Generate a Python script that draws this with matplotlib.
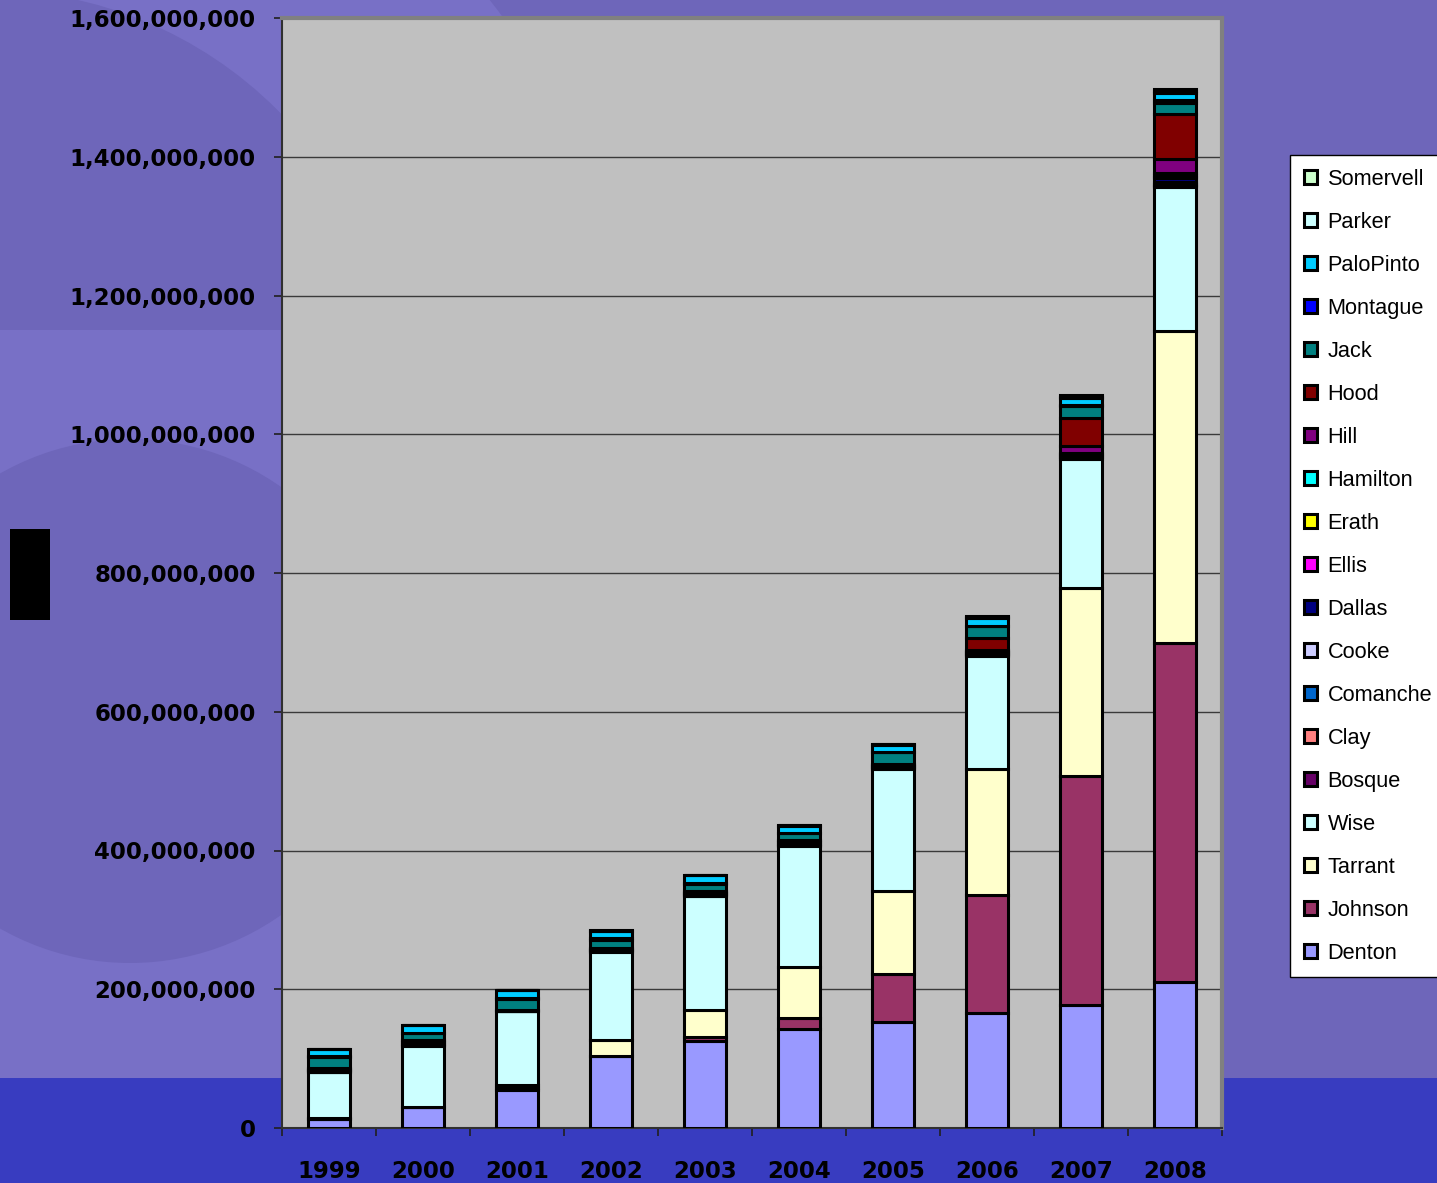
import matplotlib
matplotlib.use("Agg")
import matplotlib.pyplot as plt
import numpy as np
from matplotlib.patches import Rectangle, Circle, Patch
from matplotlib.ticker import FuncFormatter, FixedLocator

# ---- data (values in millions) ----
years = ["1999", "2000", "2001", "2002", "2003", "2004", "2005", "2006", "2007", "2008"]

counties = ["Denton", "Johnson", "Tarrant", "Wise", "Bosque", "Clay", "Comanche",
            "Cooke", "Dallas", "Ellis", "Erath", "Hamilton", "Hill", "Hood", "Jack",
            "Montague", "PaloPinto", "Parker", "Somervell"]

denton    = [13, 30, 55, 104, 126, 143, 153, 166, 177, 210]
johnson   = [0.5, 0.5, 3, 0.5, 5, 16, 69, 170, 330, 489]
tarrant   = [0.3, 0.3, 3.5, 22, 39, 73, 119, 182, 272, 450]
wise      = [67, 88, 107, 127, 164, 175, 177, 163, 186, 207]
bosque    = [0.5, 1, 0.3, 1, 1, 1, 1, 1, 1.5, 2]
clay      = [0, 0.2, 0, 0.2, 0.3, 0.3, 0.3, 0.5, 0.5, 1]
comanche  = [0.2, 0.3, 0.2, 0.3, 0.5, 0.5, 0.5, 0.5, 1, 2]
cooke     = [0.3, 0.5, 0.2, 0.5, 1, 1, 1, 1, 1, 3]
dallas    = [1, 3, 0.3, 1.5, 2, 2, 1.5, 2, 2, 6]
ellis     = [0.2, 0.3, 0, 0.3, 0.3, 0.3, 0.3, 0.5, 0.5, 1]
erath     = [1.5, 0.5, 0.2, 0.5, 0.5, 0.5, 0.5, 0.5, 0.5, 2]
hamilton  = [0.3, 0.5, 0.2, 0.5, 0.5, 0.5, 0.5, 1, 1, 3]
hill      = [0.5, 0.5, 0.2, 0.5, 0.5, 0.5, 0.5, 1, 10, 21]
hood      = [1, 1, 0.3, 1, 1, 1, 1, 18, 41, 65]
jack      = [16, 10.5, 16, 10.5, 10.5, 10, 16.5, 16.5, 17, 16]
montague  = [1, 0.5, 0.5, 3, 1.5, 1, 0.5, 0.5, 0.5, 4]
palopinto = [10, 10.5, 11.5, 10.5, 10.5, 10, 10.5, 10.5, 10.5, 10]
parker    = [0.5, 0.5, 0.5, 0.5, 0.5, 0.5, 0.5, 2, 2, 3]
somervell = [0.3, 0.3, 0.3, 0.5, 0.5, 0.5, 0.5, 1, 2, 3]

series = [denton, johnson, tarrant, wise, bosque, clay, comanche, cooke, dallas,
          ellis, erath, hamilton, hill, hood, jack, montague, palopinto, parker,
          somervell]

colors = ["#9999FF", "#993366", "#FFFFCC", "#CCFFFF", "#660066", "#FF8080",
          "#0066CC", "#CCCCFF", "#000080", "#FF00FF", "#FFFF00", "#00FFFF",
          "#800080", "#800000", "#008080", "#0000FF", "#00CCFF", "#CCFFFF",
          "#CCFFCC"]

# ---- figure and backdrop ----
W, H = 1437, 1183
fig = plt.figure(figsize=(W / 100, H / 100), dpi=100)
base = "#6E66BA"
light = "#7870C6"
fig.patch.set_facecolor(base)

bg = fig.add_axes([0, 0, 1, 1], zorder=0)
bg.set_xlim(0, W)
bg.set_ylim(H, 0)
bg.axis("off")
# soft ring in the upper left corner
bg.add_patch(Circle((-12, 399), 641, color=light, lw=0))
bg.add_patch(Circle((-12, 399), 409, color=base, lw=0))
# lighter strip down the left side with a darker disc over it
bg.add_patch(Rectangle((0, 330), 282, 748, color=light, lw=0))
bg.add_patch(Circle((130, 701), 262, color=base, lw=0))
# blue floor band
bg.add_patch(Rectangle((0, 1078), W, H - 1078, color="#383CC0", lw=0))
bg.add_patch(Rectangle((10, 529), 40, 91, color="black", lw=0))

# ---- chart ----
ax = fig.add_axes([282 / W, (H - 1128) / H, 940 / W, 1110 / H], zorder=1)
ax.set_facecolor("#C0C0C0")

x = np.arange(len(years))
bottom = np.zeros(len(years))
handles = []
for name, vals, c in zip(counties, series, colors):
    v = np.array(vals) * 1e6
    ax.bar(x, v, width=0.45, bottom=bottom, color=c, edgecolor="black",
           linewidth=2.2, zorder=3)
    bottom += v
    handles.append(Patch(facecolor=c, edgecolor="black", linewidth=2.2, label=name))

ax.set_xlim(-0.5, len(years) - 0.5)
ax.set_ylim(0, 1.6e9)
ax.yaxis.set_major_locator(FixedLocator(np.arange(0, 1.6e9 + 1, 2e8)))
ax.yaxis.set_major_formatter(FuncFormatter(lambda v, p: f"{v:,.0f}"))
ax.yaxis.grid(True, color="#3A3A3A", lw=1.0, zorder=1)
ax.set_axisbelow(True)

ax.xaxis.set_major_locator(FixedLocator(np.arange(-0.5, len(years), 1.0)))
ax.xaxis.set_major_formatter(FuncFormatter(lambda v, p: ""))
ax.set_xticks(x, years, minor=True)
ax.tick_params(axis="x", which="major", length=6, width=1.2, color="#202020", direction="out")
ax.tick_params(axis="x", which="minor", length=0, pad=23)
ax.tick_params(axis="y", length=6, width=1.2, color="#202020", pad=13)
for lab in ax.get_xticklabels(minor=True) + ax.get_yticklabels():
    lab.set_fontfamily("DejaVu Sans")
    lab.set_fontweight("bold")
    lab.set_fontsize(16.5)
    lab.set_color("black")

for s in ("left", "bottom"):
    ax.spines[s].set_color("#303030")
    ax.spines[s].set_linewidth(1.5)
for s in ("top", "right"):
    ax.spines[s].set_color("#808080")
    ax.spines[s].set_linewidth(3)

leg = fig.legend(handles=handles[::-1], loc="upper left",
                 bbox_to_anchor=(1290 / W, 1 - 155 / H), borderaxespad=0,
                 frameon=True, fancybox=False, edgecolor="black",
                 facecolor="white", framealpha=1,
                 prop={"family": "Liberation Sans", "size": 15.7},
                 handlelength=0.63, handleheight=0.63, handletextpad=0.48,
                 labelspacing=1.01, borderpad=0.62)
leg.get_frame().set_linewidth(1.0)
leg.set_zorder(5)

fig.savefig("out.png", dpi=100, facecolor=fig.get_facecolor())
